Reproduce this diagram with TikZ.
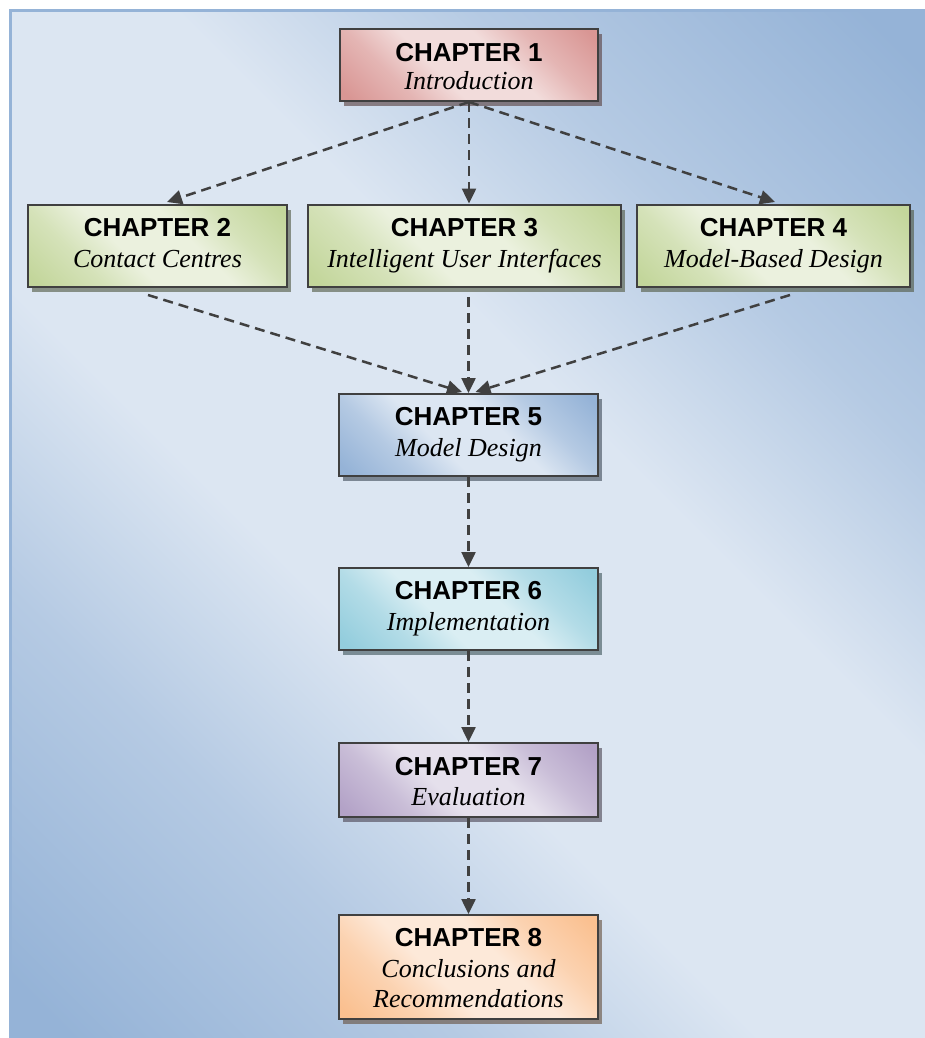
\documentclass[tikz,border=0pt]{standalone}
\usepackage{fontspec}
\newfontfamily\sansB{Liberation Sans}
\newfontfamily\serifI{Liberation Serif}
\usetikzlibrary{arrows.meta,calc,shadows}

\definecolor{bgblue}{HTML}{95B3D7}
\definecolor{bglight}{HTML}{DCE6F2}
\definecolor{edgegray}{HTML}{404040}
\definecolor{c1d}{HTML}{D99694}\definecolor{c1l}{HTML}{F2DCDB}
\definecolor{c2d}{HTML}{C3D69B}\definecolor{c2l}{HTML}{EBF1DE}
\definecolor{c5d}{HTML}{95B3D7}\definecolor{c5l}{HTML}{DCE6F2}
\definecolor{c6d}{HTML}{93CDDD}\definecolor{c6l}{HTML}{DAEEF3}
\definecolor{c7d}{HTML}{B3A2C7}\definecolor{c7l}{HTML}{E5E0EC}
\definecolor{c8d}{HTML}{FAC090}\definecolor{c8l}{HTML}{FDE9D9}

% dark corners, light band along the other diagonal
\colorlet{shdark}{bgblue}\colorlet{shmid}{bgblue!50!bglight}\colorlet{shlight}{bglight}
\pgfdeclareverticalshading[shdark,shmid,shlight]{diagshade}{100bp}{%
  color(0bp)=(shdark); color(17bp)=(shdark); color(31bp)=(shmid);
  color(42bp)=(shlight); color(58bp)=(shlight); color(69bp)=(shmid);
  color(83bp)=(shdark); color(100bp)=(shdark)}

\newcommand\headfont{\sansB\bfseries\fontsize{26}{30}\selectfont}
\newcommand\itfont{\serifI\itshape\fontsize{26}{30}\selectfont}
% #1 line distance, #2 chapter number, #3 further rows (each ended by \cr)
\newcommand\chaptext[3]{\vtop{\baselineskip=#1pt\lineskiplimit=-100pt\lineskip=0pt
  \halign{\hfil##\hfil\cr\headfont CHAPTER #2\cr#3}}}

\tikzset{
  diag/.style 2 args={/utils/exec={\colorlet{shdark}{#1}\colorlet{shmid}{#1!55!#2}\colorlet{shlight}{#2}},
    shading=diagshade, shading angle=-45},
  chap/.style 2 args={rectangle, draw=edgegray, line width=2.4pt, inner sep=0pt,
    diag={#1}{#2},
    drop shadow={shadow xshift=4pt, shadow yshift=-5pt, fill=#1!40!black, opacity=0.6}},
  chaplabel/.style={anchor=base, inner sep=0pt},
  link/.style={draw=edgegray, line width=2.5pt, dash pattern=on 10pt off 6pt,
    -{Triangle[length=15pt,width=14pt]}},
}

\begin{document}
\begin{tikzpicture}[x=1pt, y=-1pt]
  \useasboundingbox (0,0) rectangle (925,1038);
  \fill[white] (0,0) rectangle (925,1038);

  % backdrop panel
  \shade[diag={bgblue}{bglight}] (10.5,10.5) rectangle (935,1048);
  \draw[bgblue, line width=3pt] (10.5,1048) -- (10.5,10.5) -- (935,10.5);

  % chapter boxes
  \node[chap={c1d}{c1l}, minimum width=257.6pt, minimum height=71.6pt] (b1) at (469,65) {};
  \node[chap={c2d}{c2l}, minimum width=258.6pt, minimum height=82.1pt] (b2) at (157.5,245.75) {};
  \node[chap={c2d}{c2l}, minimum width=312.6pt, minimum height=82.1pt] (b3) at (464.5,245.75) {};
  \node[chap={c2d}{c2l}, minimum width=272.6pt, minimum height=82.1pt] (b4) at (773.5,245.75) {};
  \node[chap={c5d}{c5l}, minimum width=258.6pt, minimum height=81.6pt] (b5) at (468.5,435) {};
  \node[chap={c6d}{c6l}, minimum width=258.6pt, minimum height=81.6pt] (b6) at (468.5,609) {};
  \node[chap={c7d}{c7l}, minimum width=258.6pt, minimum height=73.6pt] (b7) at (468.5,780) {};
  \node[chap={c8d}{c8l}, minimum width=258.6pt, minimum height=103.6pt] (b8) at (468.5,967) {};

  % chapter titles
  \node[chaplabel] (t1) at (469,61.5) {\chaptext{28}{1}{\itfont Introduction\cr}};
  \node[chaplabel] (t2) at (157.5,236.5) {\chaptext{30.5}{2}{\itfont Contact Centres\cr}};
  \node[chaplabel] (t3) at (464.5,236.5) {\chaptext{30.5}{3}{\itfont Intelligent User Interfaces\cr}};
  \node[chaplabel] (t4) at (773.5,236.5) {\chaptext{30.5}{4}{\itfont Model-Based Design\cr}};
  \node[chaplabel] (t5) at (468.5,425.5) {\chaptext{30.5}{5}{\itfont Model Design\cr}};
  \node[chaplabel] (t6) at (468.5,599.5) {\chaptext{30.5}{6}{\itfont Implementation\cr}};
  \node[chaplabel] (t7) at (468.5,775) {\chaptext{30}{7}{\itfont Evaluation\cr}};
  \node[chaplabel] (t8) at (468.5,946.5) {\chaptext{30.5}{8}{\itfont Conclusions and\cr\itfont Recommendations\cr}};

  % reading order
  \draw[link] (b1.south) -- ($(b2.north)+(9.5,-1.5)$);
  \draw[link] (b1.south) -- (b1.south |- b3.north);
  \draw[link] (b1.south) -- ($(b4.north)+(1.5,-1.5)$);
  \draw[link] ($(b2.south)+(-9.5,7)$) -- ($(b5.north)+(-6.5,-1)$);
  \draw[link] ($(b5.north |- b3.south)+(0,9)$) -- (b5.north);
  \draw[link] ($(b4.south)+(16.5,7)$) -- ($(b5.north)+(7,-1)$);
  \draw[link] (b5.south) -- (b6.north);
  \draw[link] (b6.south) -- (b7.north);
  \draw[link] (b7.south) -- (b8.north);
\end{tikzpicture}
\end{document}
